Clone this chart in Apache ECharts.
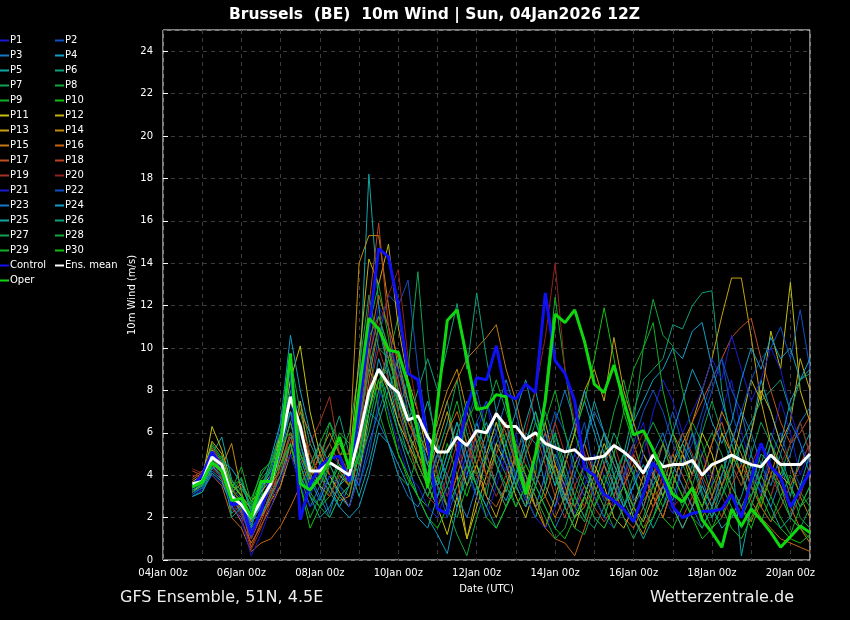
<!DOCTYPE html>
<html>
<head>
<meta charset="utf-8">
<title>Brussels (BE) 10m Wind</title>
<script src="https://cdn.jsdelivr.net/npm/echarts@6/dist/echarts.min.js"></script>
<style>
html, body { margin: 0; padding: 0; background: #000; }
#chart { width: 850px; height: 620px; }
</style>
</head>
<body>
<div id="chart"></div>
<script>
// hours counted from 04Jan 00z; run is 12z, first plotted step is 18z, then every 6h
var startHour = 18;
var stepHours = 6;
var dateLabels = ['04Jan 00z', '06Jan 00z', '08Jan 00z', '10Jan 00z', '12Jan 00z',
    '14Jan 00z', '16Jan 00z', '18Jan 00z', '20Jan 00z'];

// 10m wind (m/s)
var P1 = [3.2,3.4,4.5,4.0,2.8,2.2,1.0,2.5, 3.5,5.0,7.5,5.2,3.0,4.2,5.0,4.5, 3.8,6.0,9.5,12.0,11.0,8.5,6.0,4.5, 3.5,5.0,6.5,5.5,4.0,6.0,7.5,5.0, 4.2,6.0,3.5,2.5,4.0,5.5,3.0,2.2, 3.5,5.0,4.0,2.5,3.8,5.2,6.5,4.0, 3.0,2.2,4.5,6.0,5.0,3.5,7.0,8.5, 6.0,4.5,3.0,5.5,7.5,6.0,4.0,5.2];
var P2 = [3.5,3.8,5.2,4.6,3.4,2.9,2.0,3.2, 4.0,6.5,9.0,6.0,4.5,3.5,4.8,5.5, 4.5,5.0,8.0,10.5,12.5,12.0,13.2,9.0, 6.0,4.5,3.0,4.5,6.5,8.0,6.0,4.5, 5.5,3.8,2.8,4.5,6.0,4.8,3.5,5.0, 6.5,4.0,2.8,3.5,5.0,4.2,2.5,3.8, 5.5,7.0,5.5,4.0,6.5,8.0,9.5,7.0, 5.5,4.0,3.2,4.8,6.0,4.5,3.5,4.2];
var P3 = [3.0,3.3,4.2,3.8,2.5,2.0,1.5,2.2, 3.0,4.5,6.0,4.0,2.5,3.5,2.2,3.8, 4.5,3.5,5.5,7.0,8.5,7.5,5.5,6.5, 4.5,3.5,5.0,6.5,4.5,3.0,4.8,6.0, 7.5,5.0,3.5,2.5,4.0,6.5,8.0,6.5, 5.0,3.0,2.0,3.5,4.5,2.8,3.5,5.0, 4.0,2.8,4.5,6.0,3.8,2.5,4.0,5.5, 7.0,5.0,3.5,2.5,3.8,5.0,6.5,7.2];
var P4 = [3.3,3.5,4.8,4.2,3.2,2.5,1.8,2.5, 3.5,5.5,8.5,5.5,3.8,2.8,4.0,3.0, 2.5,4.5,7.0,9.5,8.0,6.0,4.5,3.0, 2.0,1.2,0.3,2.5,4.5,6.5,5.0,3.5, 2.8,4.0,6.0,5.5,3.5,2.5,4.5,6.0, 7.5,6.0,4.5,3.0,4.5,6.5,7.5,8.5, 9.0,10.0,9.5,10.8,11.2,9.1,7.5,6.0, 4.5,6.0,8.5,7.0,5.5,7.5,8.5,9.0];
var P5 = [3.4,3.7,5.0,5.8,3.8,3.0,2.5,3.5, 4.2,4.5,5.8,4.8,3.5,4.0,3.2,2.5, 3.5,8.0,18.2,12.0,8.5,6.5,5.0,6.0, 7.5,5.5,3.5,2.5,4.0,5.5,6.5,4.5, 3.2,4.8,6.5,8.0,6.0,4.0,2.8,4.5, 5.5,7.5,6.0,4.0,2.5,3.5,5.0,4.2, 3.0,4.5,6.0,4.8,3.2,2.0,3.5,5.0, 0.2,2.5,4.0,5.5,4.5,3.0,5.0,6.0];
var P6 = [3.1,3.4,4.6,4.4,2.2,2.6,1.6,2.8, 3.8,4.8,6.5,7.5,5.5,4.5,5.5,6.8, 5.0,4.0,6.5,8.5,9.0,7.0,8.5,6.0, 4.0,6.0,7.5,5.0,3.5,4.5,3.0,5.5, 6.5,4.5,3.0,2.0,3.5,5.0,3.8,2.5, 4.0,3.0,4.5,6.0,5.0,7.0,8.5,9.0, 9.5,11.1,10.9,12.0,12.6,12.7,8.0,5.5, 4.0,3.0,4.5,6.0,5.0,3.5,2.5,3.5];
var P7 = [3.6,3.9,5.5,4.8,3.5,3.8,2.2,3.0, 4.5,6.0,9.5,7.0,5.0,4.0,3.5,4.8, 6.0,9.0,12.5,10.0,9.5,11.5,9.0,13.6, 8.0,5.0,6.5,8.5,6.0,4.5,3.5,5.0, 4.0,2.5,3.5,5.0,7.0,5.5,4.0,3.0, 2.0,3.5,5.0,4.0,2.8,1.8,3.0,4.5, 5.5,4.0,3.0,4.5,6.0,7.5,6.0,4.5, 3.5,5.0,6.5,5.5,4.0,5.5,6.5,5.0];
var P8 = [3.0,3.2,4.4,4.0,3.0,2.4,1.4,2.0, 3.2,4.0,5.5,3.5,2.0,3.0,4.5,3.5, 3.0,5.5,10.0,7.0,5.5,4.0,3.5,5.0, 6.0,4.0,2.5,1.2,0.2,2.0,3.5,5.0, 6.0,4.5,3.0,2.0,3.5,6.0,4.0,2.5, 1.8,3.5,5.0,7.0,8.5,6.5,10.0,12.3, 10.6,10.1,8.0,6.0,4.5,3.0,4.0,5.5, 4.0,2.5,1.8,3.0,4.5,3.5,2.0,1.5];
var P9 = [3.5,3.6,4.9,4.3,2.9,3.4,2.6,3.8, 4.4,5.8,7.0,5.0,4.0,5.5,6.5,5.0, 4.0,6.5,11.0,13.0,10.5,7.0,5.5,4.0, 3.0,4.5,6.0,7.5,5.5,4.0,5.0,6.5, 5.0,3.5,2.5,4.0,8.0,12.4,9.0,6.0, 4.5,3.0,2.0,3.5,5.0,4.0,2.8,3.5, 2.5,3.5,5.0,6.5,5.5,4.0,3.0,4.5, 5.5,4.0,2.5,1.8,3.0,4.0,3.2,2.5];
var P10 = [3.3,3.5,4.7,4.1,3.3,2.8,1.9,3.0, 3.6,4.2,6.0,4.5,3.2,2.5,3.0,4.2, 3.5,4.8,7.5,9.0,7.0,5.0,3.8,3.0, 2.5,3.8,5.5,4.0,3.0,4.5,6.0,7.0, 5.5,4.0,5.5,7.0,5.0,3.5,4.5,6.0, 7.5,9.5,11.9,9.5,7.0,5.5,4.0,3.0, 2.0,1.5,2.5,3.5,2.5,1.5,2.0,3.0, 2.5,1.5,2.8,4.0,3.5,2.0,1.5,1.0];
var P11 = [3.4,3.8,6.3,5.2,3.6,3.0,2.4,3.4, 4.0,6.0,8.5,10.1,7.0,5.0,4.0,3.2, 2.5,4.0,7.0,9.0,8.0,6.5,5.5,4.5, 3.5,2.5,1.2,3.0,1.0,2.5,4.0,5.5, 4.5,3.0,2.0,3.5,5.0,4.0,2.5,1.5, 3.0,4.5,3.5,2.0,1.5,2.5,4.0,3.0, 2.0,3.5,5.0,4.0,6.0,5.0,3.5,4.5, 6.5,8.5,7.5,10.8,9.0,13.1,8.0,6.5];
var P12 = [3.7,4.0,5.6,5.0,3.2,3.6,2.8,3.2, 3.8,5.5,7.5,6.0,5.0,4.0,5.0,5.5, 4.5,9.5,14.2,13.0,14.9,11.0,8.5,7.0, 5.0,3.5,2.5,4.0,1.0,3.0,5.0,6.5, 5.0,3.5,2.5,5.0,6.5,4.5,3.0,2.0, 2.5,4.0,5.5,4.5,3.5,2.5,1.8,3.0, 4.5,6.0,5.0,3.5,2.5,4.0,6.0,5.0, 4.0,6.0,8.0,7.0,5.5,6.5,9.5,8.0];
var P13 = [3.2,3.6,5.2,4.5,3.0,2.2,1.2,2.0, 2.8,3.5,5.0,7.5,4.5,3.5,3.0,4.0, 3.5,6.0,9.0,8.0,10.0,7.5,6.0,5.0, 4.0,5.5,7.0,5.0,3.5,4.5,3.0,2.0, 3.5,5.0,4.0,2.5,1.5,3.0,4.5,6.0, 8.0,9.0,7.5,10.5,8.0,6.5,5.0,4.0, 3.0,4.5,5.5,6.5,8.0,9.5,11.5,13.3, 13.3,10.5,7.5,5.5,4.0,3.5,4.5,5.0];
var P14 = [3.6,3.9,5.0,4.4,5.5,3.2,1.8,2.6, 3.3,4.8,6.5,5.0,3.8,5.0,6.0,5.0, 5.0,14.0,15.3,15.3,12.0,9.0,7.5,6.0, 5.0,6.5,8.0,9.0,7.0,5.5,4.0,5.0, 6.5,5.0,3.5,2.5,3.0,4.5,3.5,2.0, 3.0,4.5,6.0,5.0,3.5,2.0,1.2,2.5, 3.5,2.5,1.5,2.5,4.0,5.5,7.0,6.0, 5.0,3.5,2.5,4.0,5.5,4.5,3.0,2.0];
var P15 = [3.5,3.8,4.5,3.8,2.6,1.8,0.8,1.6, 2.5,3.5,5.5,7.0,6.0,4.5,3.5,2.8, 3.0,5.0,8.5,11.0,9.5,8.0,6.5,5.5, 4.5,6.0,7.5,8.5,9.5,10.0,10.5,11.1, 9.0,7.5,5.5,4.0,3.0,2.0,3.0,4.5, 5.5,4.0,3.0,2.5,3.5,4.5,3.5,2.5, 3.5,5.0,4.0,3.0,2.0,3.0,4.5,3.5, 2.5,1.8,3.0,4.5,3.5,2.5,1.5,0.8];
var P16 = [3.8,4.1,4.0,3.5,2.0,1.5,0.4,0.8, 1.0,1.6,2.5,3.5,4.5,5.0,4.0,3.5, 4.0,6.5,10.0,12.5,11.0,9.5,7.0,5.0, 3.5,4.5,6.0,7.0,5.5,4.0,3.0,2.5, 3.5,5.0,4.0,3.0,1.5,1.0,0.8,0.2, 1.5,3.0,4.5,3.5,2.0,1.5,2.5,4.0, 5.5,4.5,3.5,2.5,4.0,5.5,6.5,5.0, 4.0,2.8,2.0,1.5,1.0,0.8,0.6,0.4];
var P17 = [3.9,4.2,4.8,4.3,3.4,2.6,0.6,1.8, 3.0,4.5,6.0,5.0,4.0,4.8,5.5,4.5, 3.5,6.0,9.5,11.5,10.0,8.5,6.5,5.5, 4.5,3.5,2.5,4.0,5.5,4.5,6.0,7.0, 6.0,4.5,3.5,5.0,6.0,4.0,3.0,2.5, 3.5,2.5,1.8,2.5,3.5,5.0,4.0,3.0, 2.0,3.5,5.0,6.5,7.5,8.5,9.5,10.5, 11.0,11.4,9.5,8.0,6.5,5.5,6.0,6.8];
var P18 = [4.2,4.0,5.3,4.6,3.1,2.3,1.0,2.0, 3.2,4.0,5.0,4.0,4.5,5.5,4.0,3.5, 4.5,7.5,12.0,15.9,11.0,8.0,6.0,4.5, 3.5,5.0,4.0,3.0,4.5,6.0,5.0,3.5, 2.5,3.5,5.0,6.0,4.5,3.0,2.0,3.5, 4.5,3.5,2.5,3.0,4.5,5.5,4.0,3.0, 3.5,2.5,2.0,3.0,4.0,3.0,2.0,3.5, 4.5,3.5,2.5,1.8,2.5,3.5,4.5,5.5];
var P19 = [4.0,3.9,4.3,3.9,2.4,2.0,0.5,1.5, 2.8,4.0,6.0,4.5,5.5,6.5,7.7,5.0, 4.0,5.5,8.0,10.0,8.5,7.0,5.5,4.0, 3.0,2.5,4.0,5.5,6.5,5.0,4.0,3.0, 4.0,5.5,4.5,3.5,5.0,6.5,5.0,3.5, 2.5,3.5,4.5,5.5,4.0,2.5,1.5,2.5, 4.0,5.0,6.0,5.0,3.5,2.5,3.5,4.5, 3.5,4.5,5.5,4.0,3.0,2.0,3.0,4.5];
var P20 = [4.3,4.1,4.6,4.0,2.7,2.1,1.2,2.3, 3.4,4.2,5.5,6.5,5.0,4.0,3.0,4.0, 4.8,6.0,9.0,11.0,12.5,13.7,9.5,7.0, 5.5,4.0,3.0,4.5,5.5,4.0,3.5,5.0, 6.5,5.0,6.0,8.0,10.5,14.0,9.0,6.5, 5.0,4.0,3.0,2.5,4.0,5.0,6.0,4.5, 3.5,2.5,3.0,4.0,5.0,4.0,3.0,2.0, 2.5,3.5,4.0,3.0,4.5,5.5,6.5,5.0];
var P21 = [3.0,3.3,4.0,3.6,2.6,1.9,0.2,1.2, 2.5,3.8,5.0,3.5,2.5,3.0,4.0,3.5, 2.5,4.0,6.0,8.0,7.0,5.5,4.0,3.5, 2.5,2.0,3.5,5.0,4.0,3.0,2.0,3.5, 5.0,4.0,3.0,2.0,1.5,2.5,3.5,5.0, 4.0,3.0,2.0,1.5,2.5,3.5,5.0,7.0, 8.5,7.5,6.0,7.0,8.0,9.5,8.5,10.6, 9.0,7.5,8.5,10.0,9.0,7.0,5.5,4.5];
var P22 = [3.1,3.4,4.4,3.9,2.9,2.2,1.1,2.4, 3.4,5.5,7.0,4.5,3.0,2.5,3.5,4.5, 4.0,3.5,5.0,7.5,10.0,9.0,7.0,5.5, 4.5,3.5,2.0,3.5,5.0,6.5,7.5,6.0, 4.5,3.5,2.5,3.5,5.5,7.0,6.0,4.0, 3.0,2.0,1.5,2.5,4.0,5.5,7.0,8.0, 7.0,5.5,4.5,5.5,7.0,8.5,9.5,8.0, 7.0,8.5,9.5,10.0,11.0,9.5,11.8,9.0];
var P23 = [3.3,3.6,4.6,4.2,3.0,2.7,1.7,2.6, 3.6,5.0,7.0,5.5,4.0,3.0,2.0,3.0, 3.5,5.0,7.0,6.5,5.5,4.0,3.0,2.5, 3.5,5.0,4.0,3.0,2.0,3.5,5.5,7.0, 8.5,7.0,5.0,3.5,2.5,1.5,2.5,4.0, 5.5,7.0,6.0,4.5,3.5,2.5,3.5,5.0, 6.0,4.5,3.5,2.5,1.5,2.5,4.0,5.5, 7.0,6.0,4.5,3.5,5.0,6.5,5.5,4.0];
var P24 = [3.2,3.5,4.3,4.7,4.3,3.6,2.3,3.2, 4.8,6.5,10.6,8.0,6.0,4.5,3.5,2.5, 2.0,2.5,4.0,6.0,5.5,4.5,3.5,2.0, 1.5,3.0,4.5,6.0,4.5,3.5,2.5,4.0, 5.5,7.0,8.5,6.5,5.0,3.5,5.0,6.5, 8.0,6.5,5.0,3.5,2.5,3.5,4.5,3.5, 4.5,6.0,7.5,9.0,8.0,6.5,5.5,6.5, 8.5,10.0,9.0,10.5,9.5,10.0,8.5,9.5];
var P25 = [3.0,3.2,4.1,3.7,2.5,3.0,1.9,2.1, 3.0,4.0,5.5,4.0,3.0,2.0,2.5,3.5, 4.5,3.0,4.5,6.5,8.0,9.5,7.5,6.0, 4.5,3.5,5.0,6.5,5.0,3.5,2.5,1.5, 2.5,4.0,5.5,7.0,5.5,4.0,3.0,2.0, 3.0,4.5,6.0,5.0,3.5,2.0,1.0,2.0, 3.5,2.5,1.5,2.5,3.5,2.5,1.5,2.0, 3.0,4.5,3.5,2.5,1.5,2.0,3.5,5.0];
var P26 = [3.4,3.7,5.1,4.5,2.0,2.5,1.5,3.4, 4.2,5.5,7.0,6.0,4.5,5.5,4.5,3.5, 4.0,6.5,9.0,11.0,9.0,7.5,6.5,8.0, 9.5,8.0,10.0,12.1,9.0,12.6,9.5,7.0, 5.0,3.5,2.5,3.5,5.0,6.0,4.5,3.0, 2.0,1.5,2.5,4.0,5.0,4.0,2.5,1.5, 2.5,4.0,5.5,4.5,3.0,2.0,3.0,4.0, 5.5,6.5,7.5,8.0,8.5,7.0,8.5,8.8];
var P27 = [3.5,3.8,4.7,4.9,3.7,3.3,2.9,4.0, 4.7,6.0,8.0,5.5,3.5,4.5,6.5,5.5, 4.5,7.0,10.5,11.5,10.0,8.0,7.0,5.5, 4.0,3.0,4.5,6.0,7.5,6.0,4.5,3.5, 2.5,3.5,5.0,6.5,5.5,4.0,2.5,1.5, 1.2,2.5,4.0,3.0,2.0,1.0,2.0,3.5, 4.5,3.5,2.5,3.5,5.0,6.0,5.0,3.5, 2.5,3.5,5.0,4.5,3.0,2.0,1.5,2.5];
var P28 = [3.2,3.5,4.5,4.3,3.1,3.9,2.4,3.6, 4.3,5.0,6.5,4.5,3.0,2.5,2.0,3.0, 3.5,5.0,7.5,9.0,7.5,6.0,5.0,4.0, 3.0,4.0,2.5,2.0,3.5,5.0,7.0,8.5, 7.0,5.5,4.0,3.0,2.0,1.0,1.5,3.0, 4.5,3.5,2.5,1.5,2.5,4.0,5.5,6.5, 5.5,4.0,3.0,2.0,1.5,2.5,3.5,2.5, 1.5,2.5,4.0,5.5,4.5,3.5,2.5,3.0];
var P29 = [3.6,3.9,5.4,4.7,3.3,4.4,2.7,4.2, 4.6,5.5,6.0,5.0,4.0,3.5,4.5,6.0, 5.5,4.5,6.0,8.0,9.5,8.0,6.0,4.5, 3.5,2.5,3.5,5.0,6.5,7.5,6.0,4.5, 3.5,2.5,3.5,5.0,6.5,8.0,6.0,4.5, 3.5,2.5,3.5,5.0,7.0,9.0,10.0,11.2, 8.0,6.0,4.5,3.5,2.5,3.5,4.5,3.0, 2.0,3.0,4.0,3.0,2.0,1.2,2.5,3.5];
var P30 = [3.4,3.6,4.8,4.5,3.5,3.1,2.1,2.9, 3.7,4.5,5.5,3.5,1.5,2.5,3.5,4.5, 4.0,5.0,7.0,8.5,6.5,5.0,4.0,3.0, 2.0,1.5,2.5,3.5,4.5,3.5,2.0,1.5, 2.5,3.5,4.5,3.5,2.5,1.5,1.0,2.0, 3.0,2.0,1.5,2.5,3.5,2.5,1.5,2.0, 3.0,4.0,3.0,2.0,1.0,1.5,2.5,1.5, 1.0,2.0,3.0,2.0,1.5,1.0,0.8,1.2];

var control = [3.5,4.0,5.1,4.4,2.6,2.7,1.2,2.3, 3.9,5.5,9.5,1.9,3.6,4.4,4.8,4.9, 3.7,7.0,10.8,14.7,14.3,12.0,8.8,8.5, 5.5,2.4,2.2,5.0,7.2,8.6,8.5,10.1, 7.8,7.6,8.3,7.9,12.6,9.4,8.8,7.5, 4.3,4.0,3.1,2.8,2.4,1.8,3.1,4.6, 3.9,2.5,2.0,2.2,2.3,2.3,2.4,3.1, 2.0,3.8,5.5,4.4,3.9,2.5,3.3,4.2];
var ensMean = [3.6,3.7,4.85,4.5,3.0,2.6,2.0,2.8, 3.6,5.5,7.7,6.3,4.2,4.2,4.6,4.3, 4.0,5.8,7.9,9.0,8.3,7.9,6.6,6.8, 5.8,5.1,5.1,5.8,5.4,6.1,6.0,6.9, 6.3,6.3,5.7,6.0,5.5,5.3,5.1,5.2, 4.75,4.8,4.9,5.4,5.1,4.7,4.1,4.95, 4.4,4.5,4.5,4.7,4.0,4.5,4.7,4.95, 4.7,4.5,4.4,4.95,4.5,4.5,4.5,5.0];
var oper = [3.45,3.7,4.6,4.2,2.8,2.9,2.0,3.7, 3.7,5.5,9.75,3.6,3.3,3.9,4.7,5.8, 4.3,8.0,11.4,10.9,9.9,9.8,8.3,6.0, 3.4,7.4,11.3,11.8,9.5,7.1,7.2,7.8, 7.7,5.0,3.1,5.0,7.5,11.6,11.2,11.8, 10.3,8.3,7.9,9.2,7.5,5.9,6.1,5.2, 4.1,3.1,2.75,3.4,1.9,1.3,0.6,2.4, 1.6,2.4,1.9,1.3,0.6,1.1,1.6,1.3];

var members = [P1, P2, P3, P4, P5, P6, P7, P8, P9, P10, P11, P12, P13, P14, P15,
    P16, P17, P18, P19, P20, P21, P22, P23, P24, P25, P26, P27, P28, P29, P30];

// colours repeat every 20 members (P21 = P1 ...)
var memberColors = ['#1a1ad2', '#1050c4', '#1878c8', '#129ec8', '#10a6a6', '#10a07a',
    '#10a252', '#12a83c', '#12b024', '#10c010', '#c4c010', '#c4b010', '#c8a012',
    '#c48a08', '#c47818', '#c46612', '#c05020', '#b84222', '#a83222', '#922020'];

var fontName = 'DejaVu Sans';

function toPoints(values) {
    var pts = [];
    for (var i = 0; i < values.length; i++) {
        pts.push([startHour + i * stepHours, values[i]]);
    }
    return pts;
}

var series = [];
members.forEach(function (vals, k) {
    series.push({
        name: 'P' + (k + 1),
        type: 'line',
        data: toPoints(vals),
        showSymbol: false,
        silent: true,
        color: memberColors[k % 20],
        lineStyle: {width: 1}
    });
});
series.push({
    name: 'Control', type: 'line', data: toPoints(control), showSymbol: false, silent: true,
    color: '#1010f4', lineStyle: {width: 3}
});
series.push({
    name: 'Ens. mean', type: 'line', data: toPoints(ensMean), showSymbol: false, silent: true,
    color: '#ffffff', lineStyle: {width: 3}
});
series.push({
    name: 'Oper', type: 'line', data: toPoints(oper), showSymbol: false, silent: true,
    color: '#10d810', lineStyle: {width: 3}
});

var leftNames = [], rightNames = [];
for (var n = 1; n <= 30; n++) {
    if (n % 2 === 1) leftNames.push('P' + n); else rightNames.push('P' + n);
}
leftNames.push('Control', 'Oper');
rightNames.push('Ens. mean');

var legendBase = {
    orient: 'vertical',
    top: 34,
    padding: 0,
    itemGap: 2,
    itemWidth: 9,
    itemHeight: 2,
    icon: 'rect',
    selectedMode: false,
    textStyle: {color: '#fff', fontSize: 10, fontFamily: fontName, lineHeight: 13, padding: [0, 0, 0, -4]}
};

var myChart = echarts.init(document.getElementById('chart'), null, {renderer: 'canvas'});
var option = {
    backgroundColor: '#000',
    animation: false,
    title: {
        text: 'Brussels  (BE)  10m Wind | Sun, 04Jan2026 12Z',
        left: 224,
        top: 2,
        textStyle: {color: '#fff', fontSize: 15.5, fontWeight: 'bold', fontFamily: fontName}
    },
    legend: [
        Object.assign({}, legendBase, {left: 0, data: leftNames}),
        Object.assign({}, legendBase, {left: 55, data: rightNames})
    ],
    grid: {
        left: 163, right: 40, top: 30, bottom: 60,
        show: true, borderColor: '#fff', borderWidth: 1, backgroundColor: '#000'
    },
    xAxis: {
        type: 'value',
        min: 0,
        max: 396,
        interval: 24,
        name: 'Date (UTC)',
        nameLocation: 'middle',
        nameGap: 24,
        nameTextStyle: {color: '#fff', fontSize: 10, fontFamily: fontName},
        axisLine: {show: false},
        axisTick: {show: false},
        axisLabel: {
            color: '#fff', fontSize: 10, fontFamily: fontName, margin: 8,
            showMaxLabel: false,
            formatter: function (h) {
                if (h % 48 !== 0) return '';
                return dateLabels[h / 48] || '';
            }
        },
        splitLine: {show: true, lineStyle: {color: '#3c3c3c', type: [4, 4], width: 1}}
    },
    yAxis: {
        type: 'value',
        min: 0,
        max: 25,
        interval: 2,
        name: '10m Wind (m/s)',
        nameLocation: 'middle',
        nameGap: 26,
        nameMoveOverlap: false,
        nameRotate: 90,
        nameTextStyle: {color: '#fff', fontSize: 10, fontFamily: fontName},
        axisLine: {show: false},
        axisTick: {show: true, inside: true, length: 5, lineStyle: {color: '#fff'}},
        axisLabel: {color: '#fff', fontSize: 10, fontFamily: fontName, margin: 10, showMaxLabel: false},
        splitLine: {show: true, lineStyle: {color: '#3c3c3c', type: [4, 4], width: 1}}
    },
    graphic: [
        {
            type: 'text', left: 120, top: 590,
            style: {text: 'GFS Ensemble, 51N, 4.5E', fill: '#eee', fontSize: 16, fontFamily: fontName}
        },
        {
            type: 'text', right: 56, top: 590,
            style: {text: 'Wetterzentrale.de', fill: '#eee', fontSize: 16, fontFamily: fontName}
        }
    ],
    series: series
};

myChart.setOption(option);
</script>
</body>
</html>
